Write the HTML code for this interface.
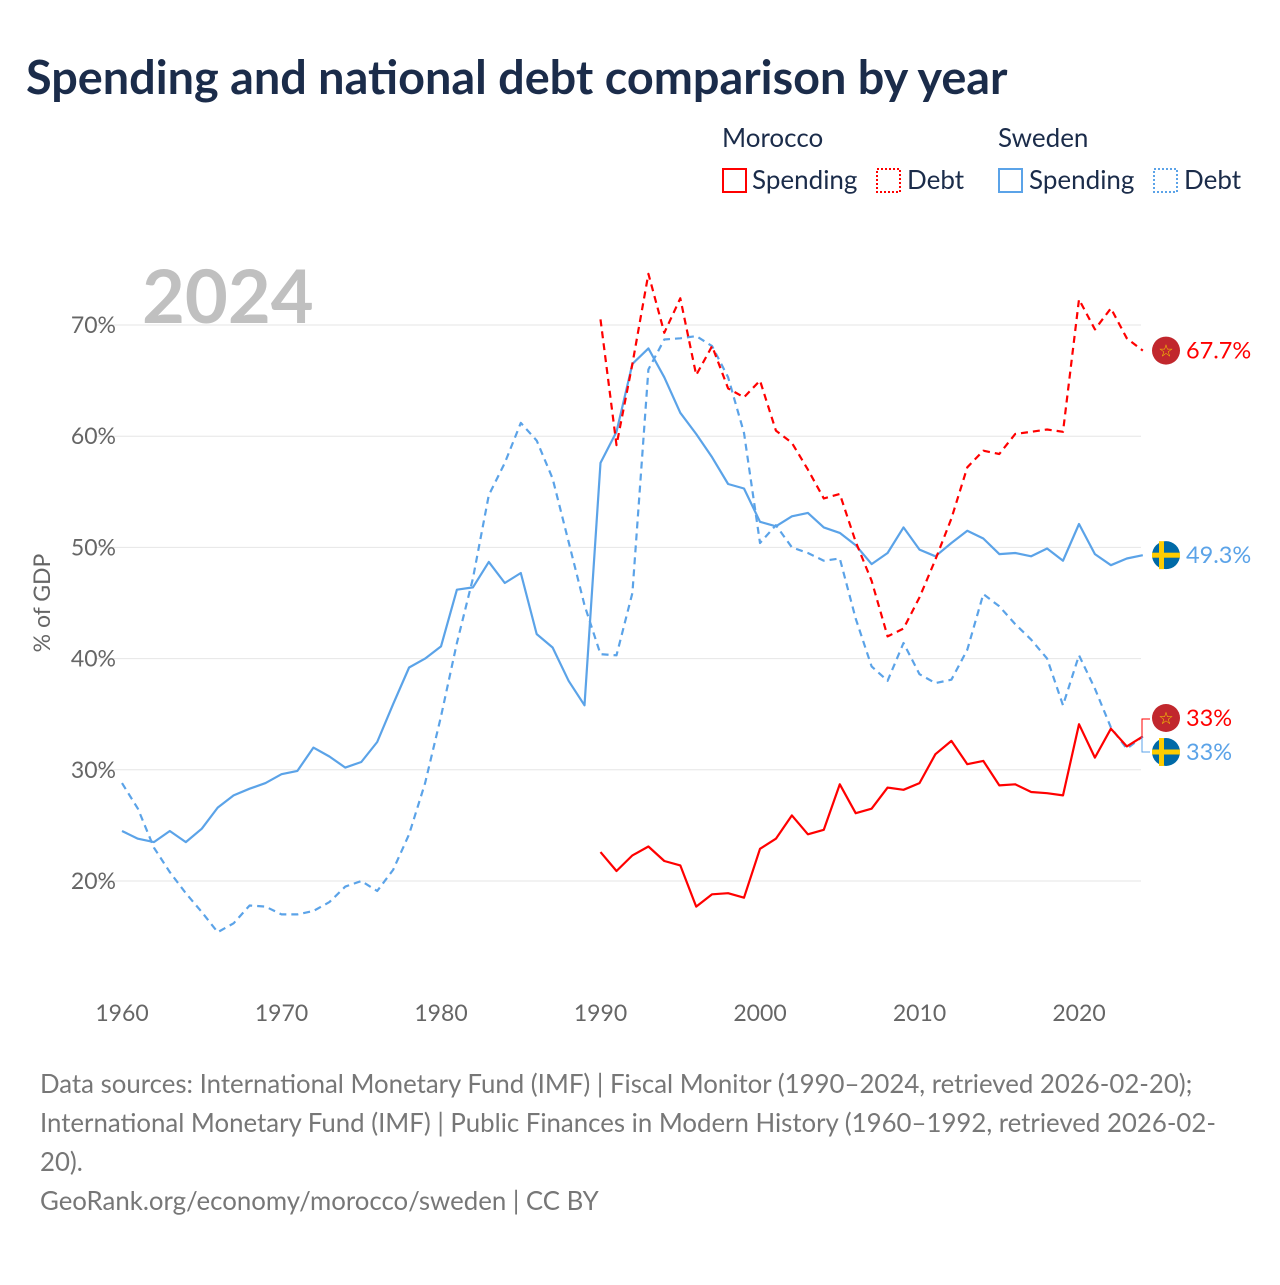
<!DOCTYPE html>
<html><head><meta charset="utf-8">
<style>
body{margin:0;background:#fff;font-family:"Liberation Sans",sans-serif;}
svg text{font-family:"Lato","Liberation Sans",sans-serif;}
</style></head>
<body>
<svg id="chart" width="1280" height="1280" viewBox="0 0 1280 1280" xmlns="http://www.w3.org/2000/svg">
<rect width="1280" height="1280" fill="#fff"/>
<text x="26" y="94" font-size="46.8" font-weight="bold" fill="#1b2c4a">Spending and national debt comparison by year</text>
<g font-size="26" fill="#1b2c4a">
<text x="722" y="147">Morocco</text>
<text x="998" y="147">Sweden</text>
<g><rect x="723" y="169" width="23" height="23" fill="none" stroke="#f00" stroke-width="2"/><text x="752" y="189">Spending</text></g>
<g><rect x="877" y="169" width="23" height="23" fill="none" stroke="#f00" stroke-width="2" stroke-dasharray="2,2"/><text x="907" y="189">Debt</text></g>
<g><rect x="999" y="169" width="23" height="23" fill="none" stroke="#5ba3e8" stroke-width="2"/><text x="1029" y="189">Spending</text></g>
<g><rect x="1154" y="169" width="23" height="23" fill="none" stroke="#5ba3e8" stroke-width="2" stroke-dasharray="2,2"/><text x="1184" y="189">Debt</text></g>
</g>
<text x="142" y="323" font-size="74" font-weight="bold" fill="#c0c0c0">2024</text>
<g id="grid"></g><g id="series"></g><g id="ends"></g>
<text transform="translate(50,603) rotate(-90)" text-anchor="middle" font-size="23" fill="#666">% of GDP</text>
<g font-size="25.8" fill="#777">
<text x="40" y="1093">Data sources: International Monetary Fund (IMF) | Fiscal Monitor (1990–2024, retrieved 2026-02-20);</text>
<text x="40" y="1132">International Monetary Fund (IMF) | Public Finances in Modern History (1960–1992, retrieved 2026-02-</text>
<text x="40" y="1171">20).</text>
<text x="40" y="1210">GeoRank.org/economy/morocco/sweden | CC BY</text>
</g>
</svg>
<script>
const yTicks=[20,30,40,50,60,70];
const xTicks=[1960,1970,1980,1990,2000,2010,2020];
const sweYears0=1960;
const sweSpending=[24.5,23.8,23.5,24.5,23.5,24.7,26.6,27.7,28.3,28.8,29.6,29.9,32.0,31.2,30.2,30.7,32.5,35.9,39.2,40.0,41.1,46.2,46.4,48.7,46.8,47.7,42.2,41.0,38.0,35.8,57.6,60.4,66.5,67.9,65.3,62.1,60.2,58.1,55.7,55.3,52.3,51.9,52.8,53.1,51.8,51.3,50.2,48.5,49.5,51.8,49.8,49.2,50.4,51.5,50.8,49.4,49.5,49.2,49.9,48.8,52.1,49.4,48.4,49.0,49.3];
const sweDebt=[28.8,26.5,23.0,20.8,18.9,17.2,15.4,16.2,17.8,17.7,17.0,17.0,17.3,18.1,19.5,20.0,19.1,21.0,24.2,28.8,34.8,41.4,47.2,54.7,57.6,61.2,59.6,56.2,50.5,44.8,40.4,40.3,45.9,66.0,68.7,68.8,69.0,68.1,65.3,60.3,50.4,52.0,50.0,49.5,48.8,49.0,43.6,39.3,38.0,41.4,38.6,37.8,38.1,40.8,45.8,44.7,43.1,41.7,40.0,35.8,40.3,37.3,33.8,31.9,33.0];
const marYears0=1990;
const marSpending=[22.6,20.9,22.3,23.1,21.8,21.4,17.7,18.8,18.9,18.5,22.9,23.8,25.9,24.2,24.6,28.7,26.1,26.5,28.4,28.2,28.8,31.4,32.6,30.5,30.8,28.6,28.7,28.0,27.9,27.7,34.1,31.1,33.7,32.1,33.0];
const marDebt=[70.5,59.2,66.5,74.6,69.3,72.4,65.5,68.1,64.3,63.5,65.0,60.5,59.4,57.0,54.4,54.8,50.5,47.0,42.0,42.7,45.5,48.9,52.6,57.2,58.7,58.4,60.2,60.4,60.6,60.4,72.3,69.6,71.5,68.8,67.7];

const X=yr=>122+(yr-1960)*15.95;
const Y=v=>881-(v-20)*11.12;
const NS="http://www.w3.org/2000/svg";
function mk(t,a,p){const e=document.createElementNS(NS,t);for(const k in a)e.setAttribute(k,a[k]);p.appendChild(e);return e;}
const grid=document.getElementById('grid');
yTicks.forEach(v=>{
  const l=mk('line',{x1:95,x2:1141,y1:Y(v),y2:Y(v),stroke:'#e6e6e6','stroke-width':1},grid);
  
  
  const t=mk('text',{x:116,y:Y(v)+8,'text-anchor':'end','font-size':23,fill:'#666'},grid);
  t.textContent=v+'%';
  
  
});
xTicks.forEach(yr=>{
  const t=mk('text',{x:X(yr),y:1021,'text-anchor':'middle','font-size':23,fill:'#666'},grid);
  t.textContent=yr;
  
  
});
const ser=document.getElementById('series');
function line(vals,y0,color,dash,name){
  const d=vals.map((v,i)=>(i?'L':'M')+X(y0+i).toFixed(1)+','+Y(v).toFixed(1)).join(' ');
  const p=mk('path',{d:d,fill:'none',stroke:color,'stroke-width':2.2,'stroke-linejoin':'round'},ser);
  if(dash)p.setAttribute('stroke-dasharray','7,5');
  
  
}
line(sweDebt,sweYears0,'#5ba3e8',true,'sweden-debt-line');
line(sweSpending,sweYears0,'#5ba3e8',false,'sweden-spending-line');
line(marDebt,marYears0,'#f00',true,'morocco-debt-line');
line(marSpending,marYears0,'#f00',false,'morocco-spending-line');

const ends=document.getElementById('ends');
function flag(cy,type,label,color,name){
  const g=mk('g',{},ends);
  
  
  const cx=1166;
  if(type==='mar'){
    mk('circle',{cx:cx,cy:cy,r:14,fill:'#c1272d'},g);
    mk('text',{x:cx,y:cy+6,'text-anchor':'middle','font-size':17,fill:'#f5d000'},g).textContent='☆';
  }else{
    mk('circle',{cx:cx,cy:cy,r:14,fill:'#006aa7'},g);
    mk('rect',{x:cx-14,y:cy-2.5,width:28,height:5,fill:'#fecc00'},g);
    mk('rect',{x:cx-7,y:cy-14,width:5,height:28,fill:'#fecc00'},g);
  }
  mk('text',{x:1186,y:cy+8,'font-size':23.5,fill:color},g).textContent=label;
}
const last=a=>a[a.length-1];
flag(Y(last(marDebt)),'mar',last(marDebt)+'%','#f00','morocco-debt-end-label');
flag(Y(last(sweSpending)),'swe',last(sweSpending)+'%','#5ba3e8','sweden-spending-end-label');
mk('path',{d:`M1142,${Y(last(marSpending))} L1142,719 L1150,719`,fill:'none',stroke:'#f00','stroke-width':1},ends);
mk('path',{d:`M1142,${Y(last(sweDebt))} L1142,752 L1150,752`,fill:'none',stroke:'#5ba3e8','stroke-width':1},ends);
flag(718,'mar',Math.round(last(marSpending))+'%','#f00','morocco-spending-end-label');
flag(752,'swe',Math.round(last(sweDebt))+'%','#5ba3e8','sweden-debt-end-label');
</script>
</body></html>
